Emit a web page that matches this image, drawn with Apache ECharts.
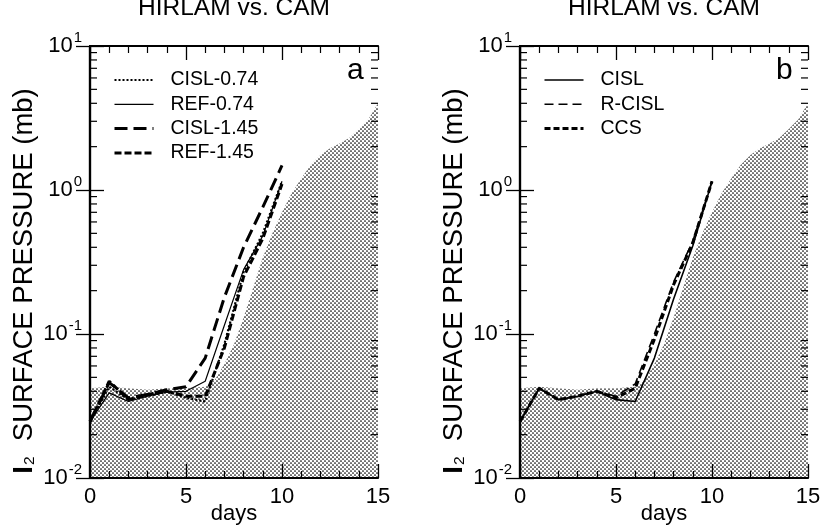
<!DOCTYPE html>
<html lang="en">
<head>
<meta charset="UTF-8">
<title>HIRLAM vs. CAM</title>
<script src="https://cdn.jsdelivr.net/npm/echarts@6/dist/echarts.min.js"></script>
<style>
html,body{margin:0;padding:0;background:#fff;}
#main{width:822px;height:531px;}
</style>
</head>
<body>
<div id="main"></div>
<script>
// model output, daily values (mb)
var days = [0, 1, 2, 3, 4, 5, 6, 7, 8, 9, 10];
// panel a
var cisl074 = [0.0246, 0.043, 0.035, 0.037, 0.040, 0.036, 0.034, 0.085, 0.27, 0.50, 1.15];
var ref074  = [0.0246, 0.039, 0.034, 0.037, 0.0395, 0.040, 0.047, 0.115, 0.28, 0.48, 1.15];
var cisl145 = [0.0246, 0.046, 0.036, 0.038, 0.041, 0.043, 0.068, 0.18, 0.40, 0.76, 1.48];
var ref145  = [0.0246, 0.047, 0.035, 0.038, 0.040, 0.037, 0.037, 0.080, 0.25, 0.46, 1.10];
// panel b
var cisl  = [0.0246, 0.042, 0.035, 0.037, 0.040, 0.035, 0.034, 0.068, 0.175, 0.41, 1.15];
var rcisl = [0.0246, 0.042, 0.035, 0.037, 0.040, 0.037, 0.045, 0.10, 0.23, 0.44, 1.15];
var ccs   = [0.0246, 0.042, 0.035, 0.037, 0.040, 0.036, 0.042, 0.092, 0.22, 0.43, 1.15];
// stippled envelope
var envDays = [0, 1, 2, 3, 4, 5, 6, 6.5, 7, 7.5, 8, 8.5, 9, 9.5, 10, 10.5, 11, 11.5, 12, 12.5, 13, 13.5, 14, 14.5, 15];
var envVals = [0.042, 0.043, 0.042, 0.041, 0.042, 0.042, 0.043, 0.048, 0.062, 0.085, 0.13, 0.21, 0.34, 0.50, 0.70, 0.95, 1.2, 1.5, 1.75, 1.95, 2.1, 2.3, 2.65, 3.1, 4.0];
// tick values
var decades = [0.01, 0.1, 1];
var minorMult = [2, 3, 4, 5, 6, 7, 8, 9];

var FONT = 'Liberation Sans';
var yMinor = [];
for (var i = 0; i < decades.length; i++) {
	for (var j = 0; j < minorMult.length; j++) yMinor.push(decades[i] * minorMult[j]);
}

// line styles per series name
var styles = {
	'CISL-0.74': {width: 2.2, type: [2, 2]},
	'REF-0.74': {width: 1.2, type: 'solid'},
	'CISL-1.45': {width: 3, type: [13, 6]},
	'REF-1.45': {width: 3, type: [7, 3]},
	'CISL': {width: 1.6, type: 'solid'},
	'R-CISL': {width: 1.6, type: [9, 5]},
	'CCS': {width: 3, type: [6, 3]}
};

function pairs(xs, ys) {
	return xs.map(function (x, k) { return [x, ys[k]]; });
}

// stipple pattern
function stipple() {
	var c = document.createElement('canvas');
	c.width = 4; c.height = 4;
	var g = c.getContext('2d');
	g.fillStyle = '#000';
	g.beginPath(); g.arc(1, 1, 0.85, 0, Math.PI * 2); g.fill();
	g.beginPath(); g.arc(3, 3, 0.85, 0, Math.PI * 2); g.fill();
	return c;
}
var pattern = stipple();

function line(name, vals, idx) {
	var s = styles[name];
	return {
		type: 'line', name: name, xAxisIndex: idx, yAxisIndex: idx,
		data: pairs(days, vals), symbol: 'none', z: 3, color: '#000',
		lineStyle: {color: '#000', width: s.width, type: s.type}
	};
}
function area(idx) {
	return {
		type: 'line', name: 'env', xAxisIndex: idx, yAxisIndex: idx,
		data: pairs(envDays, envVals), symbol: 'none', z: 1,
		lineStyle: {width: 0},
		areaStyle: {origin: 'start', color: {image: pattern, repeat: 'repeat'}, opacity: 1}
	};
}
// minor log ticks, both sides of the frame
function ticks(idx) {
	return {
		type: 'custom', xAxisIndex: idx, yAxisIndex: idx, silent: true, z: 5,
		data: yMinor.map(function (v) { return [0, v]; }),
		renderItem: function (params, api) {
			var cs = params.coordSys;
			var y = api.coord([0, api.value(1)])[1];
			var st = {stroke: '#000', lineWidth: 1.2};
			return {type: 'group', children: [
				{type: 'line', shape: {x1: cs.x, y1: y, x2: cs.x + 7, y2: y}, style: st},
				{type: 'line', shape: {x1: cs.x + cs.width, y1: y, x2: cs.x + cs.width - 7, y2: y}, style: st}
			]};
		}
	};
}

function xAx(grid, pos, show) {
	return {
		type: 'value', gridIndex: grid, position: pos, min: 0, max: 15, interval: 5,
		name: show ? 'days' : '', nameLocation: 'middle', nameGap: 25, nameMoveOverlap: false,
		nameTextStyle: {fontFamily: FONT, fontSize: 22, color: '#000'},
		axisLine: {lineStyle: {color: '#000', width: 2.2}},
		axisTick: {inside: true, length: 14, lineStyle: {color: '#000', width: 1.3}},
		minorTick: {show: true, splitNumber: 5, length: 7, lineStyle: {color: '#000', width: 1.2}},
		axisLabel: {show: show, margin: 8, fontFamily: FONT, fontSize: 22, color: '#000'},
		splitLine: {show: false}
	};
}
function yAx(grid, pos, show) {
	return {
		type: 'log', logBase: 10, gridIndex: grid, position: pos, min: 0.01, max: 10,
		name: show ? '{i|I}{s|2}{t|  SURFACE PRESSURE (mb)}' : '',
		nameLocation: 'middle', nameRotate: 90, nameGap: 52, nameMoveOverlap: false,
		nameTextStyle: {
			padding: [0, 38, 0, 0],
			rich: {
				i: {fontFamily: FONT, fontSize: 27.5, color: '#000', fontWeight: 'bold', lineHeight: 28, verticalAlign: 'bottom'},
				s: {fontFamily: FONT, fontSize: 15.5, color: '#000', lineHeight: 16, verticalAlign: 'bottom', padding: [0, 0, 0, 1]},
				t: {fontFamily: FONT, fontSize: 27.5, color: '#000', lineHeight: 28, verticalAlign: 'bottom'}
			}
		},
		axisLine: {lineStyle: {color: '#000', width: 2.2}},
		axisTick: {inside: true, length: 14, lineStyle: {color: '#000', width: 1.3}},
		axisLabel: {
			show: show, margin: 8,
			formatter: function (v) { return '{b|10}{s|' + Math.round(Math.log10(v)) + '}'; },
			rich: {
				b: {fontFamily: FONT, fontSize: 22, color: '#000', lineHeight: 22, verticalAlign: 'bottom'},
				s: {fontFamily: FONT, fontSize: 15, color: '#000', lineHeight: 15, verticalAlign: 'bottom', padding: [0, 0, 12, 1]}
			}
		},
		splitLine: {show: false}
	};
}
function legend(names, left) {
	return {
		data: names.map(function (n) {
			return {name: n, lineStyle: {color: '#000', width: styles[n].width, type: styles[n].type}};
		}),
		orient: 'vertical', left: left, top: 70, padding: 0,
		itemWidth: 39, itemHeight: 14, itemGap: 4.3, selectedMode: false,
		itemStyle: {opacity: 0},
		textStyle: {fontFamily: FONT, fontSize: 19.5, color: '#000', lineHeight: 20, padding: [0, 0, 0, 12]}
	};
}

var chart = echarts.init(document.getElementById('main'));
chart.setOption({
	animation: false,
	title: [
		{text: 'HIRLAM vs. CAM', left: 234, top: -4, textAlign: 'center', padding: 0,
			textStyle: {fontFamily: FONT, fontSize: 24.5, fontWeight: 'normal', color: '#000'}},
		{text: 'HIRLAM vs. CAM', left: 664, top: -4, textAlign: 'center', padding: 0,
			textStyle: {fontFamily: FONT, fontSize: 24.5, fontWeight: 'normal', color: '#000'}},
		{text: 'a', left: 347, top: 56, padding: 0,
			textStyle: {fontFamily: FONT, fontSize: 30, fontWeight: 'normal', color: '#000'}},
		{text: 'b', left: 776, top: 56, padding: 0,
			textStyle: {fontFamily: FONT, fontSize: 30, fontWeight: 'normal', color: '#000'}}
	],
	legend: [
		legend(['CISL-0.74', 'REF-0.74', 'CISL-1.45', 'REF-1.45'], 113),
		legend(['CISL', 'R-CISL', 'CCS'], 543)
	],
	grid: [
		{left: 90, right: 444, top: 46, bottom: 53, outerBoundsMode: 'none'},
		{left: 520, right: 14, top: 46, bottom: 53, outerBoundsMode: 'none'}
	],
	xAxis: [xAx(0, 'bottom', true), xAx(1, 'bottom', true), xAx(0, 'top', false), xAx(1, 'top', false)],
	yAxis: [yAx(0, 'left', true), yAx(1, 'left', true), yAx(0, 'right', false), yAx(1, 'right', false)],
	series: [
		area(0), area(1), ticks(0), ticks(1),
		line('CISL-0.74', cisl074, 0),
		line('REF-0.74', ref074, 0),
		line('CISL-1.45', cisl145, 0),
		line('REF-1.45', ref145, 0),
		line('CISL', cisl, 1),
		line('R-CISL', rcisl, 1),
		line('CCS', ccs, 1)
	]
});
</script>
</body>
</html>
